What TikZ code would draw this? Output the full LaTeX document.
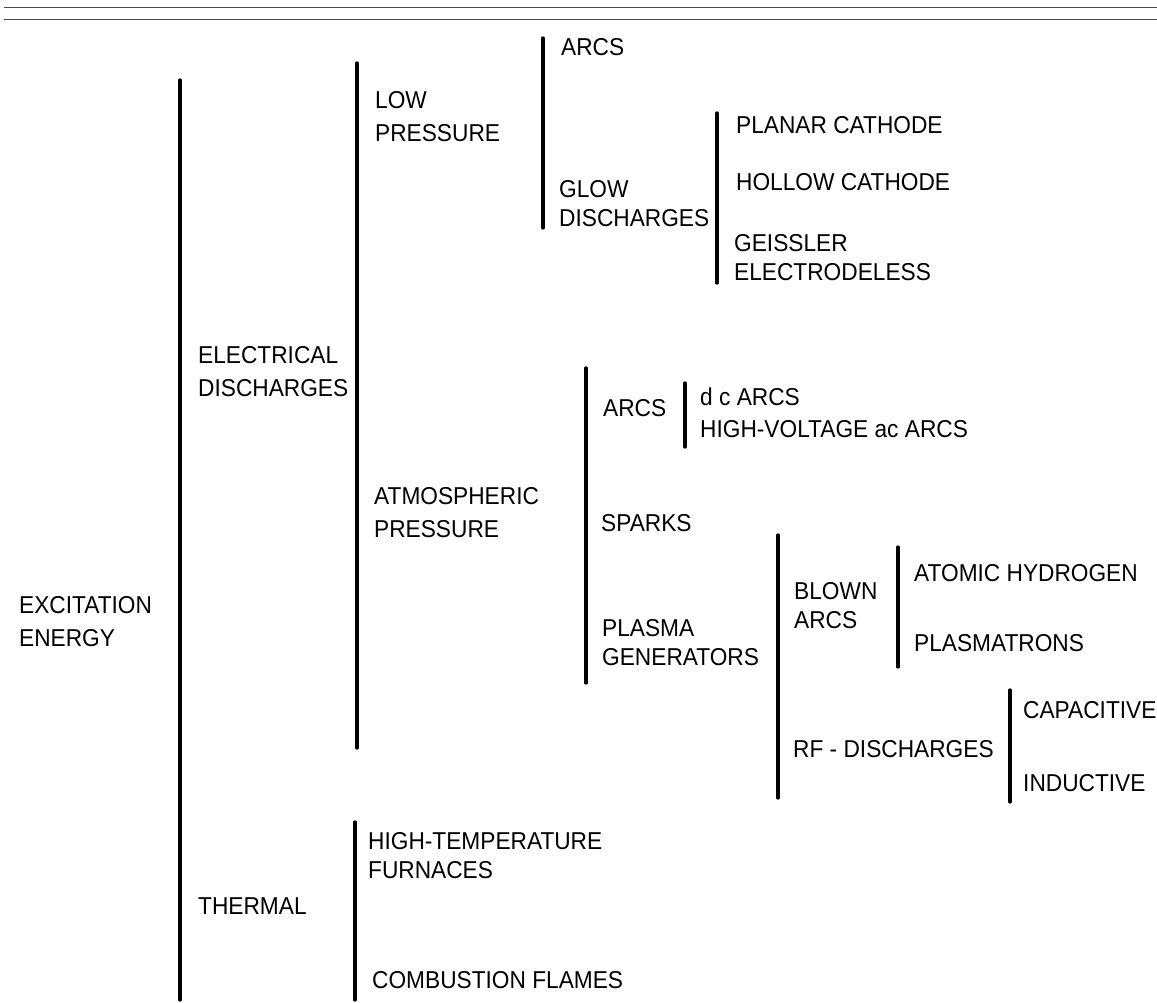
\documentclass[tikz,border=0pt]{standalone}
\usepackage{fontspec}
\setmainfont{Liberation Sans}[FakeStretch=0.93]
\begin{document}
\begin{tikzpicture}[x=1pt,y=-1pt,
  bar/.style={line width=3.3pt, line cap=round},
  lab/.style={anchor=west, inner sep=0pt, align=left, font=\fontsize{24.4}{33}\selectfont},
  labs/.style={lab, font=\fontsize{24.4}{29}\selectfont},
  rulestyle/.style={line width=1pt, black!70}]
\useasboundingbox (0,0) rectangle (1157,1002);
% top rules
\coordinate (r1a) at (4,7);  \coordinate (r1b) at (1157,7);
\coordinate (r2a) at (4,19); \coordinate (r2b) at (1157,19);
\draw[rulestyle] (r1a) -- (r1b);
\draw[rulestyle] (r2a) -- (r2b);

% labels
\node[lab]  (exc)   at (19,621.5)  {EXCITATION\\ENERGY};
\node[lab]  (elec)  at (198,371.5) {ELECTRICAL\\DISCHARGES};
\node[lab]  (therm) at (198,906)   {THERMAL};
\node[lab]  (lowp)  at (375,116.5) {LOW\\PRESSURE};
\node[lab]  (atmp)  at (374,513)   {ATMOSPHERIC\\PRESSURE};
\node[labs] (arcs1) at (561,47)    {ARCS};
\node[labs] (glow)  at (559,204)   {GLOW\\DISCHARGES};
\node[labs] (plan)  at (736,125)   {PLANAR CATHODE};
\node[labs] (hollow) at (736,182)  {HOLLOW CATHODE};
\node[labs] (geiss) at (734,257.5) {GEISSLER\\ELECTRODELESS};
\node[labs] (arcs2) at (603,408)   {ARCS};
\node[labs] (dcarcs) at (700,397)  {d c ARCS};
\node[labs] (hvarcs) at (700,429)  {HIGH-VOLTAGE ac ARCS};
\node[labs] (sparks) at (601,523)  {SPARKS};
\node[labs] (plasma) at (602,642.5) {PLASMA\\GENERATORS};
\node[labs] (blown) at (794,606)   {BLOWN\\ARCS};
\node[labs] (atomic) at (914,573)  {ATOMIC HYDROGEN};
\node[labs] (plasmatr) at (914,643) {PLASMATRONS};
\node[labs] (rf)    at (793,749)   {RF - DISCHARGES};
\node[labs] (capac) at (1023,710)  {CAPACITIVE};
\node[labs] (induc) at (1023,783)  {INDUCTIVE};
\node[labs] (furn)  at (368,856)   {HIGH-TEMPERATURE\\FURNACES};
\node[labs] (comb)  at (372,980)   {COMBUSTION FLAMES};

% bracket bars
\coordinate (Atop) at (180,80);   \coordinate (Abot) at (180,1000);
\coordinate (Btop) at (357,63);   \coordinate (Bbot) at (357,748);
\coordinate (Ttop) at (355,822);  \coordinate (Tbot) at (355,1000);
\coordinate (Ctop) at (543,38);   \coordinate (Cbot) at (543,228);
\coordinate (Dtop) at (717,113);  \coordinate (Dbot) at (717,283);
\coordinate (Etop) at (586,368);  \coordinate (Ebot) at (586,683);
\coordinate (Ftop) at (685,383);  \coordinate (Fbot) at (685,447);
\coordinate (Gtop) at (778,535);  \coordinate (Gbot) at (778,798);
\coordinate (Htop) at (898,547);  \coordinate (Hbot) at (898,667);
\coordinate (Itop) at (1010,690); \coordinate (Ibot) at (1010,802);
\foreach \b in {A,B,T,C,D,E,F,G,H,I}
  \draw[bar] (\b top) -- (\b bot);
\end{tikzpicture}
\end{document}
